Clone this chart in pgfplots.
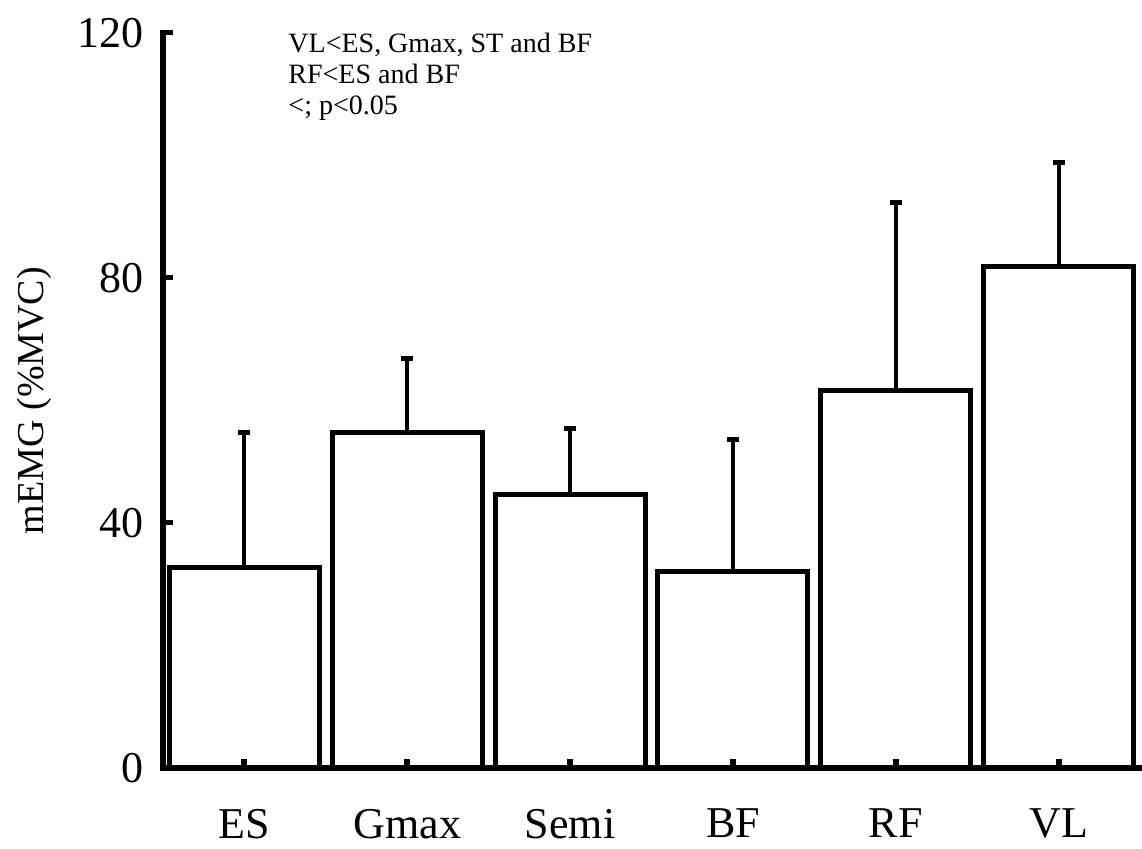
\documentclass[border=0pt]{standalone}
\usepackage{pgfplots}
\pgfplotsset{compat=1.18}
\usepackage{fontspec}
\setmainfont{Liberation Serif}
\begin{document}
\begin{tikzpicture}
\useasboundingbox (-81.5pt,-40.5pt) rectangle (489.5pt,384pt);
\begin{axis}[
  at={(0,0)}, anchor=south west,
  scale only axis,
  width=488.5pt, height=367.5pt,
  xmin=-0.5, xmax=5.5,
  ymin=0, ymax=120,
  axis x line*=bottom, axis y line*=left,
  axis line style={line width=3pt,-,line cap=rect},
  axis on top,
  xtick=data,
  xticklabels={ES,Gmax,Semi,BF,RF,VL},
  ytick={0,40,80,120},
  tick align=inside,
  major tick length=5pt,
  ytick style={line width=2.5pt,black},
  xtick style={line width=3pt,black,yshift=4.5pt},
  /pgf/number format/assume math mode=true,
  ticklabel style={font=\fontsize{22}{24}\selectfont},
  yticklabel style={xshift=-6pt},
  xticklabel style={yshift=-12pt},
  ylabel={mEMG (\%MVC)},
  every axis y label/.style={at={(rel axis cs:0,0.5)}, rotate=90, anchor=center,
     yshift=64.5pt, font=\fontsize{19}{21}\selectfont},
  ybar, bar width=75pt,
  clip=false,
]
\addplot[draw=black, fill=white, line width=2.5pt,
  error bars/.cd, y dir=plus, y explicit,
  error bar style={line width=2pt},
  error mark options={rotate=90, mark size=3pt, line width=2.5pt}]
  coordinates {
  (0,32.7) +- (0,22.0)
  (1,54.7) +- (0,12.2)
  (2,44.7) +- (0,10.8)
  (3,32.0) +- (0,21.7)
  (4,61.7) +- (0,30.7)
  (5,81.8) +- (0,17.0)
};
\node[anchor=north west, inner sep=0pt, align=left,
  font=\fontsize{14}{15.5}\selectfont]
  at (rel axis cs:0.128,1.0) {VL<ES, Gmax, ST and BF\\RF<ES and BF\\<; p<0.05};
\end{axis}
\end{tikzpicture}
\end{document}
